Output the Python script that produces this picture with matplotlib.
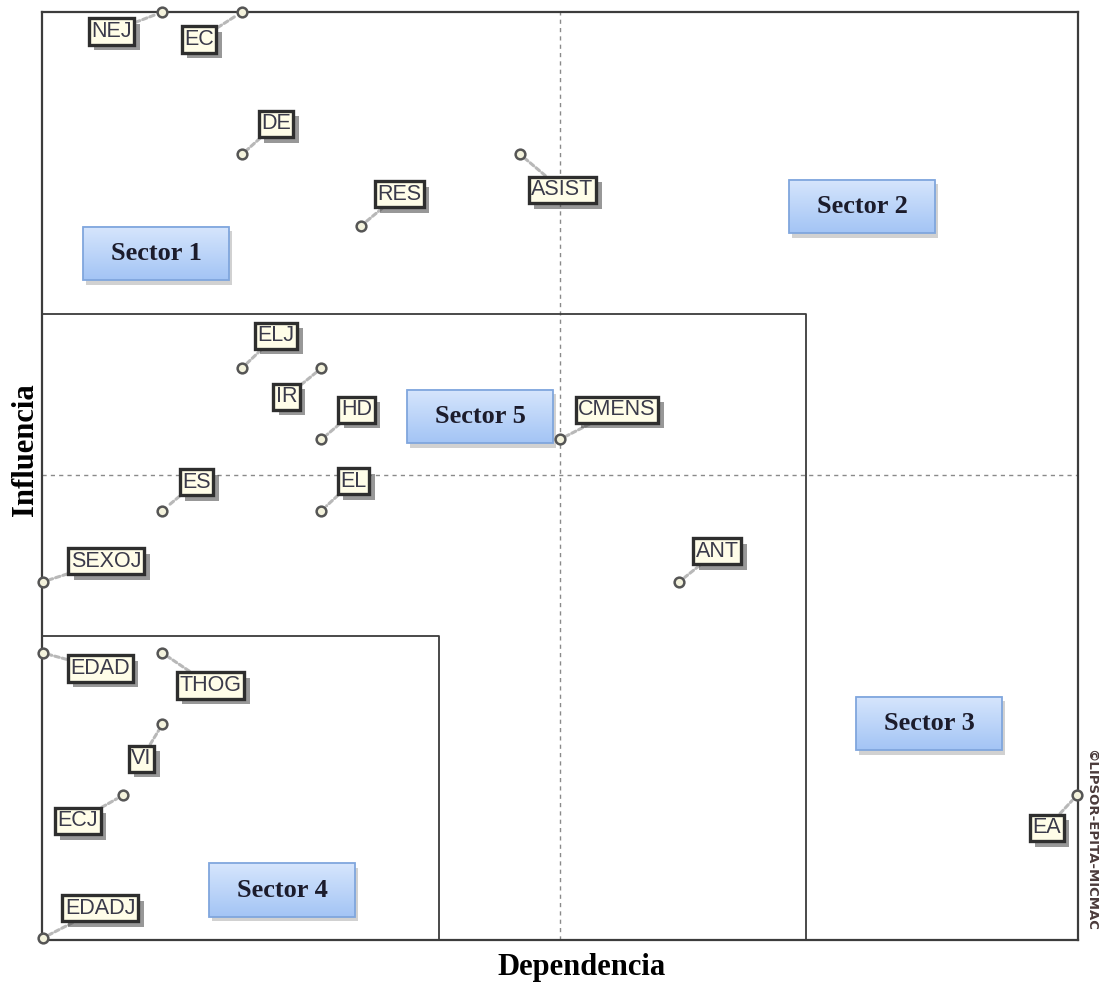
import matplotlib
matplotlib.use("Agg")
import numpy as np
import matplotlib.pyplot as plt
import matplotlib.patheffects as pe
from matplotlib.patches import Rectangle

# Variables: (dependence, influence)
labels = ["NEJ", "EC", "DE", "RES", "ASIST", "ELJ", "IR", "HD", "CMENS", "ES",
          "EL", "SEXOJ", "ANT", "EDAD", "THOG", "VI", "ECJ", "EA", "EDADJ"]
dependencia = [3, 5, 5, 8, 12, 5, 7, 7, 13, 3, 7, 0, 16, 0, 3, 3, 2, 26, 0]
influencia = [13, 13, 11, 10, 11, 8, 8, 7, 7, 6, 6, 5, 5, 4, 4, 3, 2, 2, 0]

# label offsets in pixels (layout)
offsets = {"NEJ": (-51, -17), "EC": (-43, -25), "DE": (34, 33), "RES": (38, 34),
           "ASIST": (42, -33), "ELJ": (34, 35), "IR": (-35, -26), "HD": (35, 32),
           "CMENS": (57, 32), "ES": (34, 31), "EL": (32, 32), "SEXOJ": (63, 23),
           "ANT": (38, 33), "EDAD": (57, -13), "THOG": (48, -30), "VI": (-21, -32),
           "ECJ": (-45, -23), "EA": (-30, -30), "EDADJ": (57, 32)}

sectors = ["Sector 1", "Sector 2", "Sector 3", "Sector 4", "Sector 5"]
sector_pos = [(2.84, 9.61), (20.6, 10.27), (22.28, 3.01), (6.01, 0.67), (10.99, 7.32)]

fig = plt.figure(figsize=(10.99, 9.85), dpi=100)
ax = fig.add_axes([42/1099, 45/985, 1036/1099, 928/985])
ax.set_xticks([])
ax.set_yticks([])
for s in ax.spines.values():
    s.set_color("#3c3c3c")
    s.set_linewidth(1.6)

# mean lines
ax.axvline(13, color="#8a8a8a", lw=1, ls=(0, (3, 3)), zorder=1)
ax.axhline(6.5, color="#8a8a8a", lw=1, ls=(0, (3, 3)), zorder=1)

# sector boundaries
ax.plot([-0.03, 19.2, 19.2], [8.76, 8.76, -0.03], color="#3c3c3c", lw=1.3, zorder=1)
ax.plot([-0.03, 9.96, 9.96], [4.24, 4.24, -0.03], color="#3c3c3c", lw=1.3, zorder=1)

shadow = [pe.SimplePatchShadow(offset=(4, -4), shadow_rgbFace="#444444", alpha=0.55), pe.Normal()]
for name, x, y in zip(labels, dependencia, influencia):
    dx, dy = offsets[name]
    t = ax.annotate(name, xy=(x, y), xytext=(dx, dy), textcoords="offset pixels",
                    ha="center", va="center_baseline", fontsize=15.5, family="Liberation Sans",
                    color="#3a3a4a", zorder=5,
                    bbox=dict(boxstyle="square,pad=0.12", fc="#fffde8", ec="#2e2e2e", lw=2.4),
                    arrowprops=dict(arrowstyle="-", color="#b8b8b8", lw=2.2, ls=(0, (1.5, 1)),
                                    shrinkA=0, shrinkB=5))
    t.get_bbox_patch().set_path_effects(shadow)
    ax.plot(x, y, "o", ms=7, mfc="#f3f2dc", mec="#555555", mew=1.8, zorder=6, clip_on=False)

# sector boxes with vertical gradient
bw, bh = 146 / 39.77, 54 / 71.46
grad = np.linspace(0, 1, 64).reshape(-1, 1)
top = np.array([0.84, 0.90, 0.99])
bot = np.array([0.64, 0.77, 0.96])
img = top * (1 - grad[..., None]) + bot * grad[..., None]
img = img.reshape(64, 1, 3)
for s, (x, y) in zip(sectors, sector_pos):
    x0, y0 = x - bw / 2, y - bh / 2
    sh = Rectangle((x0 + 0.07, y0 - 0.06), bw, bh, fc="#9a9a9a", ec="none", alpha=0.45, zorder=3)
    ax.add_patch(sh)
    ax.imshow(img, extent=(x0, x0 + bw, y0, y0 + bh), aspect="auto", zorder=3.5,
              interpolation="bilinear")
    ax.add_patch(Rectangle((x0, y0), bw, bh, fc="none", ec="#80a6dd", lw=1.3, zorder=3.6))
    ax.text(x, y, s, ha="center", va="center", fontsize=19, fontweight="bold",
            family="Liberation Serif", color="#1c1c2c", zorder=4)

ax.set_xlim(-0.03, 26.03)
ax.set_ylim(-0.03, 13.0)

fig.text(582/1099, 1 - 968/985, "Dependencia", ha="center", va="center",
         fontsize=22, fontweight="bold", family="Liberation Serif")
fig.text(25/1099, 1 - 450/985, "Influencia", ha="center", va="center", rotation=90,
         fontsize=22, fontweight="bold", family="Liberation Serif")
fig.text(1091/1099, 1 - 840/985, "©LIPSOR-EPITA-MICMAC", ha="center", va="center",
         rotation=-90, fontsize=9.5, fontweight="bold", color="#4a3a3a",
         family="Liberation Sans Narrow")

fig.savefig("out.png", dpi=100)
